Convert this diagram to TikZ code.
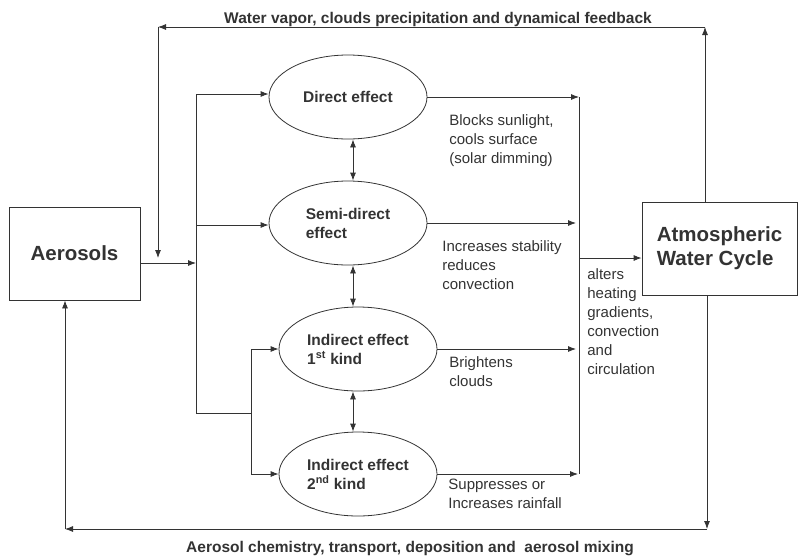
\documentclass[tikz,border=0pt]{standalone}
\usepackage{fontspec}
\setmainfont{Liberation Sans}
\usetikzlibrary{arrows.meta,shapes.geometric}

\def\ew{158}
\def\eh{84}

\begin{document}
\begin{tikzpicture}[x=1pt, y=-1pt, color=black!80, line width=0.8pt,
                    >={Latex[length=8pt,width=6pt]},
                    box/.style={draw, rectangle, align=left,
                                font=\fontsize{20.5}{24}\selectfont\bfseries},
                    effect/.style={draw, ellipse, inner sep=0pt, align=left,
                                minimum width=\ew pt, minimum height=\eh pt,
                                font=\fontsize{15.5}{19}\selectfont\bfseries},
                    note/.style={anchor=north west, inner sep=0pt, align=left,
                                font=\fontsize{15}{19}\selectfont},
                    loop/.style={inner sep=0pt,
                                font=\fontsize{15.5}{18}\selectfont\bfseries}
                   ]
\useasboundingbox (0,0) rectangle (798,558);

\node[box, minimum width=131pt, minimum height=93pt] (aer) at (74.5,253.5) {Aerosols};
\node[box, minimum width=155pt, minimum height=93pt] (atm) at (719.5,248.5) {Atmospheric\\Water Cycle};

\node[effect] (dir)  at (348,97)  {Direct effect};
\node[effect] (semi) at (348,223) {Semi-direct\\effect};
\node[effect] (ind1) at (358,349) {Indirect effect\\1\textsuperscript{st}\ kind};
\node[effect] (ind2) at (358,474) {Indirect effect\\2\textsuperscript{nd} kind};

% bus from the aerosols
\coordinate (busT) at (196,94);
\coordinate (busS) at (196,225);
\coordinate (busA) at (196,263);
\coordinate (busB) at (196,413);
\coordinate (fork) at (251,413);
\draw [->] (aer.east |- busA) -- (busA);
\draw (busT) -- (busB) -- (fork);
\draw [->] (busT) -- (busT -| dir.west);
\draw [->] (busS) -- (busS -| semi.west);
\draw [->] (fork) |- (ind1.west);
\draw [->] (fork) |- (ind2.west);

% links between the effects
\coordinate (ax) at (353,0);
\draw [<->] (dir.south -| ax) -- (semi.north -| ax);
\draw [<->] (semi.south -| ax) -- (ind1.north -| ax);
\draw [<->] (ind1.south -| ax) -- (ind2.north -| ax);

% collector to the water cycle
\coordinate (colT) at (579,97);
\coordinate (colM) at (579,258);
\coordinate (colB) at (579,474);
\draw (colT) -- (colB);
\draw [->] (dir.east) -- (colT);
\draw [->] (semi.east) -- ([xshift=-3pt]semi.east -| colT);
\draw [->] (ind1.east) -- ([xshift=-3pt]ind1.east -| colT);
\draw [->] (ind2.east) -- ([xshift=-1pt]colB);
\draw [->] (colM) -- (colM -| atm.west);

\node[note] (blocks)  at (449,114) {Blocks sunlight,\\cools surface\\(solar dimming)};
\node[note] (stab)    at (442,240) {Increases stability\\reduces\\convection};
\node[note] (bright)  at (449,356) {Brightens\\clouds};
\node[note] (rain)    at (448,479) {Suppresses or\\Increases rainfall};
\node[note] (alters)  at (587,268) {alters\\heating\\gradients,\\convection\\and\\circulation};

% feedback loops
\coordinate (wvL)  at (158,27);
\coordinate (wvR)  at (705,27);
\coordinate (wvIn) at (158,258);
\coordinate (acL)  at (65,529);
\coordinate (acR)  at (707,529);
\draw [->] (atm.north -| wvR) -- (wvR);
\draw [->] (wvR) -- (wvL);
\draw [->] (wvL) -- (wvIn);
\draw [->] (atm.south -| acR) -- (acR);
\draw [->] (acR) -- (acL);
\draw [->] (acL) -- (acL |- aer.south);

\node[loop] (wvtxt) at (438,19)  {Water vapor, clouds precipitation and dynamical feedback};
\node[loop] (actxt) at (410,549) {Aerosol chemistry, transport, deposition and\ \ aerosol mixing};
\end{tikzpicture}
\end{document}
